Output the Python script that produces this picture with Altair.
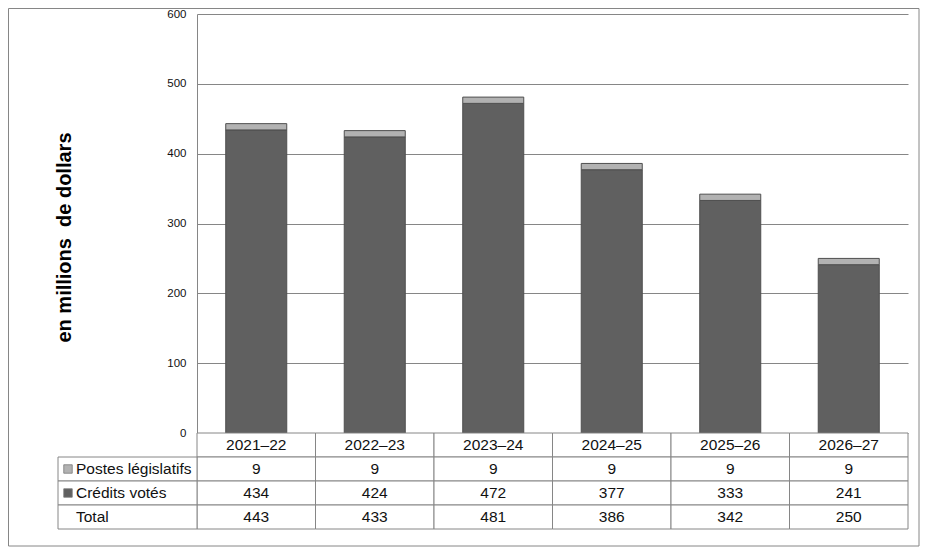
import altair as alt
import pandas as pd

years = ["2021–22", "2022–23", "2023–24", "2024–25", "2025–26", "2026–27"]
series = ["Postes législatifs", "Crédits votés"]
postes = [9, 9, 9, 9, 9, 9]
credits = [434, 424, 472, 377, 333, 241]
totals = [443, 433, 481, 386, 342, 250]
y_ticks = [0, 100, 200, 300, 400, 500, 600]
colors = ["#b2b2b2", "#606060"]

FONT = "Liberation Sans"
GRID = "#868686"
W, H = 711, 419

# ---- bars ----
bar_rows = []
for i, yr in enumerate(years):
    bar_rows.append({"year": yr, "series": "Crédits votés", "value": credits[i], "ord": 0})
    bar_rows.append({"year": yr, "series": "Postes législatifs", "value": postes[i], "ord": 1})
bar_df = pd.DataFrame(bar_rows)

color_scale = alt.Scale(domain=series, range=colors)

bars = alt.Chart(bar_df).mark_bar(stroke="#4f4f4f", strokeWidth=1).encode(
    x=alt.X("year:N", sort=years, axis=None,
            scale=alt.Scale(domain=years, paddingInner=0.485, paddingOuter=0.2425)),
    y=alt.Y("value:Q", stack="zero",
            scale=alt.Scale(domain=[0, 600], nice=False),
            axis=alt.Axis(values=y_ticks, grid=True, gridColor=GRID, gridWidth=1,
                          domainColor=GRID, ticks=False, tickSize=0,
                          labelFont=FONT, labelFontSize=11.5, labelColor="#111",
                          labelPadding=11,
                          title="en millions \u00a0de dollars", titleFont=FONT,
                          titleFontSize=20, titleFontWeight="bold", titleColor="#000",
                          titleX=-133, titleY=223, titleAngle=270,
                          titleAlign="center", titleBaseline="middle")),
    color=alt.Color("series:N", scale=color_scale, legend=None),
    order=alt.Order("ord:Q"),
)

frame = alt.Chart(pd.DataFrame({"f": [0]})).mark_rect(
    fillOpacity=0, stroke=GRID, strokeWidth=1
).encode(x=alt.value(-188.5), x2=alt.value(722), y=alt.value(-5.5), y2=alt.value(532))

top = alt.layer(bars, frame).properties(width=W, height=H)

# ---- table ----
rows = ["hdr", "Postes législatifs", "Crédits votés", "Total"]
cells = []
for i, yr in enumerate(years):
    cells.append({"year": yr, "row": "hdr", "label": yr})
    cells.append({"year": yr, "row": "Postes législatifs", "label": str(postes[i])})
    cells.append({"year": yr, "row": "Crédits votés", "label": str(credits[i])})
    cells.append({"year": yr, "row": "Total", "label": str(totals[i])})
cells_df = pd.DataFrame(cells)

xs = alt.X("year:N", sort=years, axis=None,
           scale=alt.Scale(domain=years, paddingInner=0, paddingOuter=0))
ys = alt.Y("row:N", sort=rows, axis=None,
           scale=alt.Scale(domain=rows, paddingInner=0, paddingOuter=0))

cell_rects = alt.Chart(cells_df).mark_rect(fill="white", stroke=GRID, strokeWidth=1).encode(x=xs, y=ys)
cell_text = alt.Chart(cells_df).mark_text(font=FONT, fontSize=15.5, color="#111").encode(
    x=xs, y=ys, text="label:N")

label_df = pd.DataFrame({"row": rows[1:], "series": series + ["Total"]})
label_rects = alt.Chart(label_df).mark_rect(fill="white", stroke=GRID, strokeWidth=1).encode(
    x=alt.value(-139), x2=alt.value(0), y=ys)
label_squares = alt.Chart(label_df).transform_filter(
    alt.datum.row != "Total"
).mark_square(size=72, filled=True, opacity=1, stroke="#7a7a7a", strokeWidth=0.8).encode(
    x=alt.value(-129), y=ys,
    color=alt.Color("series:N", scale=color_scale, legend=None))
label_text = alt.Chart(label_df).mark_text(font=FONT, fontSize=15.5, color="#111", align="left").encode(
    x=alt.value(-121), y=ys, text="row:N")

table = alt.layer(cell_rects, cell_text, label_rects, label_squares, label_text).properties(
    width=W, height=96)

chart = alt.vconcat(top, table, spacing=0, bounds="flush").properties(
    padding=0, background="white"
).configure_view(stroke=None)

chart.save("out.html", embed_options={"renderer": "svg", "actions": False})
